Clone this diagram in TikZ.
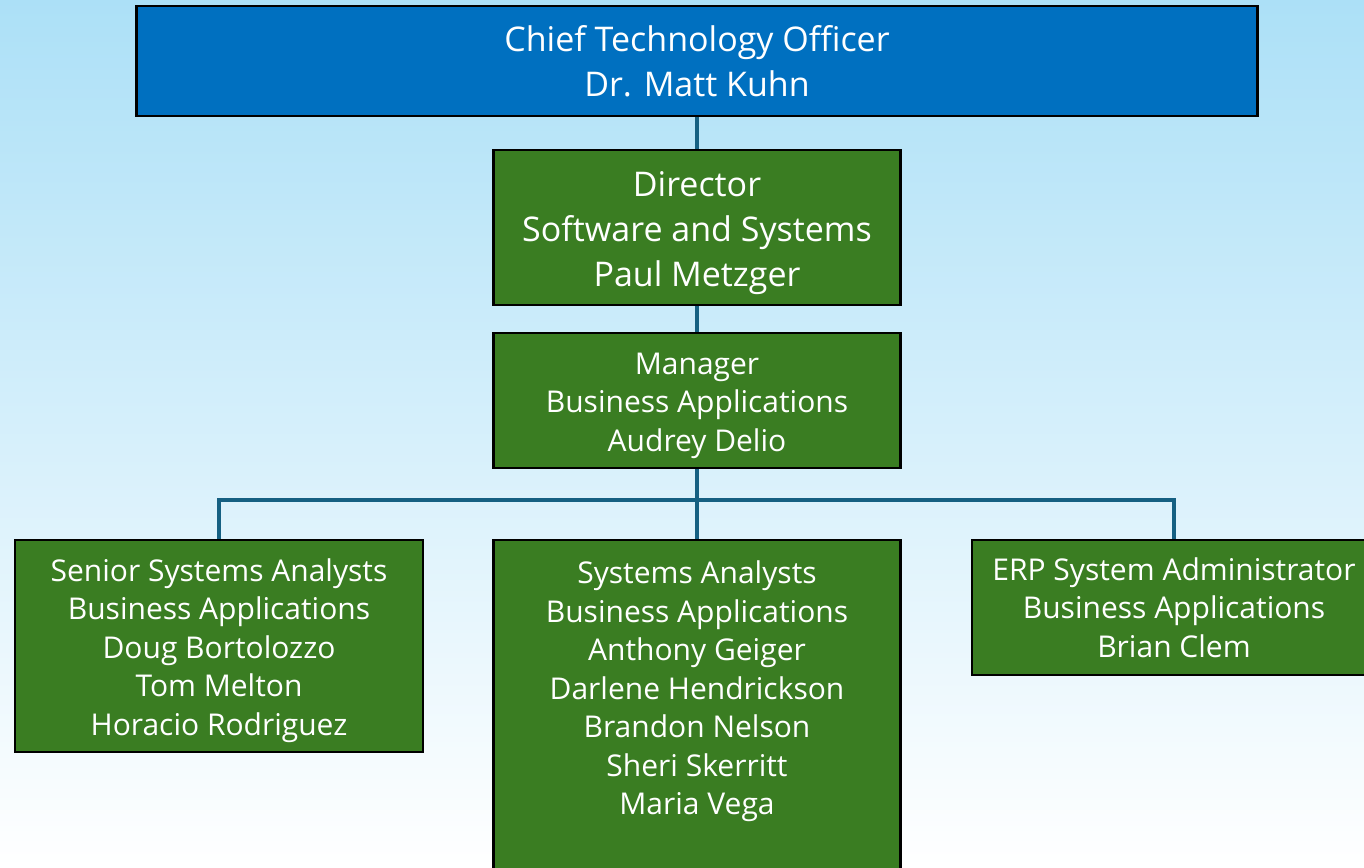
\documentclass[tikz,border=0pt]{standalone}
\usepackage{fontspec}
\setmainfont{Open Sans}
\usetikzlibrary{positioning}
\definecolor{ctoblue}{RGB}{0,112,192}
\definecolor{orggreen}{RGB}{58,125,34}
\definecolor{linkblue}{RGB}{21,96,130}
\definecolor{skytop}{RGB}{172,224,247}
% taller first line, so that the text sits a bit lower in its box
\newcommand{\toprow}{\rule{0pt}{1.05em}}

\tikzset{
  orgtext/.style={text=white, align=center, inner sep=0pt,
    font=\fontsize{30}{38.5}\selectfont},
  orgbox/.style={orgtext, draw=black, line width=2.5pt, fill=orggreen},
  bigbox/.style={orgbox, font=\fontsize{34}{45}\selectfont},
  link/.style={draw=linkblue, line width=3.2pt},
}

\begin{document}
\begin{tikzpicture}[x=1pt,y=-1pt]
    \useasboundingbox (0,0) rectangle (1364,867);
    % Background
    \shade[top color=skytop, bottom color=white] (0,0) rectangle (1364,867);
    % Boxes
    \node[bigbox, fill=ctoblue, minimum width=1121, minimum height=110] (cto) at (697,61)
        {Chief Technology Officer\\Dr. Matt Kuhn};
    \node[bigbox, minimum width=407, minimum height=155] (dir) at (697,227.5)
        {\toprow Director\\Software and Systems\\Paul Metzger};
    \node[orgbox, minimum width=407, minimum height=135] (mgr) at (697,400.5)
        {\toprow Manager\\Business Applications\\Audrey Delio};
    \node[orgbox, minimum width=408, minimum height=212] (sen) at (219,646)
        {\toprow Senior Systems Analysts\\Business Applications\\Doug Bortolozzo\\Tom Melton\\Horacio Rodriguez};
    \node[orgbox, minimum width=407, minimum height=360] (sys) at (697,720) {};
    \node[orgtext] (systxt) at (697,687)
        {\toprow Systems Analysts\\Business Applications\\Anthony Geiger\\Darlene Hendrickson\\Brandon Nelson\\Sheri Skerritt\\Maria Vega};
    \node[orgbox, minimum width=404, minimum height=135] (erp) at (1174,607.5)
        {ERP System Administrator\\Business Applications\\Brian Clem};
    % Connectors
    \coordinate (bus) at (697,500);
    \draw[link] (cto.south) -- (dir.north);
    \draw[link] (dir.south) -- (mgr.north);
    \draw[link] (mgr.south) -- (sys.north);
    \draw[link] (sen.north) |- (bus) -| (erp.north);
\end{tikzpicture}
\end{document}
